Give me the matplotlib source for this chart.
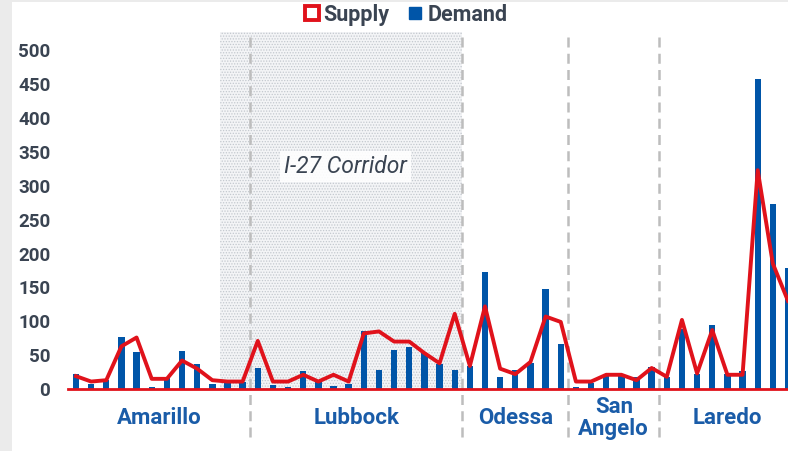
import matplotlib
matplotlib.use("Agg")
import matplotlib.pyplot as plt
import matplotlib.transforms as mtransforms
from matplotlib.lines import Line2D
from matplotlib.patches import Rectangle
import numpy as np

# regions along the x axis, and how many sites each one has
regions = ["Amarillo", "Lubbock", "Odessa", "San\nAngelo", "Laredo"]
region_sizes = [12, 14, 7, 6, 9]

demand = [22, 8, 13, 77, 55, 3, 17, 56, 37, 7, 11, 11,
          31, 6, 3, 27, 11, 4, 8, 86, 28, 57, 62, 53, 37, 28,
          34, 173, 17, 28, 38, 147, 66,
          3, 9, 19, 19, 18, 32,
          17, 89, 22, 95, 22, 27, 457, 273, 178]

supply = [19, 11, 13, 63, 76, 15, 15, 42, 30, 13, 11, 11,
          71, 11, 11, 21, 11, 21, 11, 82, 85, 70, 70, 53, 38, 111,
          34, 122, 30, 22, 40, 107, 99,
          11, 11, 21, 21, 13, 31,
          18, 102, 23, 87, 21, 21, 323, 185, 130]

y_ticks = [0, 50, 100, 150, 200, 250, 300, 350, 400, 450, 500]

# corridor spans from the 10th Amarillo site through the end of Lubbock
corridor = (9.5, 25.5)
corridor_label = "I-27 Corridor"

RED = "#e0121b"
BLUE = "#0055a8"
TEXT = "#3a4452"
LABEL_BLUE = "#1a5ca8"

plt.rcParams["font.family"] = ["Roboto", "DejaVu Sans"]
plt.rcParams["hatch.linewidth"] = 0.6

fig = plt.figure(figsize=(7.88, 4.51), dpi=100, facecolor="#ebebeb")
fig.patches.append(Rectangle((12 / 788, 0), 1, 449 / 451, transform=fig.transFigure,
                             facecolor="white", edgecolor="none", zorder=-10))

ax = fig.add_axes([68.4 / 788, 62 / 451, 1 - 68.4 / 788, 357 / 451])
ax.set_facecolor("none")

x = np.arange(len(demand))

ax.axvspan(*corridor, facecolor="#f3f4f6", edgecolor="#c3c8ce", hatch="......",
           linewidth=0, zorder=0)

ax.bar(x, demand, width=0.42, color=BLUE, zorder=2)
ax.plot(x, supply, color=RED, linewidth=2.8, zorder=3)

ax.set_xlim(-0.5, 47.0)
ax.set_ylim(0, 527)

for s in ["top", "right", "left"]:
    ax.spines[s].set_visible(False)
ax.spines["bottom"].set_color(RED)
ax.spines["bottom"].set_linewidth(2)
ax.spines["bottom"].set_zorder(4)

ax.set_xticks([])
ax.set_yticks(y_ticks)
ax.set_yticklabels([str(v) for v in y_ticks], fontsize=13.5, fontweight="bold", color=TEXT)
ax.tick_params(axis="y", length=0, pad=13)

# region dividers and names
trans = mtransforms.blended_transform_factory(ax.transData, ax.transAxes)
edges = np.cumsum([0] + region_sizes)
for e in edges[1:-1]:
    ax.plot([e - 0.5, e - 0.5], [-0.135, 1], transform=trans, color="#bdbdbd",
            linestyle=(0, (4, 2.5)), linewidth=1.8, clip_on=False, zorder=1)
for name, a, b in zip(regions, edges[:-1], edges[1:]):
    ax.text((a + b - 1) / 2, -0.082, name, transform=trans, ha="center", va="center",
            fontsize=16, fontweight="bold", color=LABEL_BLUE, linespacing=1.0)

ax.text(17.8, 329, corridor_label, ha="center", va="center", fontsize=16.5,
        fontstyle="italic", color=TEXT,
        bbox=dict(facecolor="white", edgecolor="none", pad=3, alpha=0.9))

handles = [
    Line2D([], [], linestyle="none", marker="s", markersize=10, markerfacecolor="white",
           markeredgecolor=RED, markeredgewidth=2.8, label="Supply"),
    Line2D([], [], linestyle="none", marker="s", markersize=8.5, markerfacecolor=BLUE,
           markeredgecolor=BLUE, label="Demand"),
]
leg = ax.legend(handles=handles, loc="center", bbox_to_anchor=(0.468, 1.048), ncol=2,
                frameon=False, handlelength=0.8, handletextpad=0.15, columnspacing=0.8,
                prop={"size": 15.5, "weight": "bold"})
for t in leg.get_texts():
    t.set_color(TEXT)

fig.savefig("out.png", dpi=100, facecolor=fig.get_facecolor())
